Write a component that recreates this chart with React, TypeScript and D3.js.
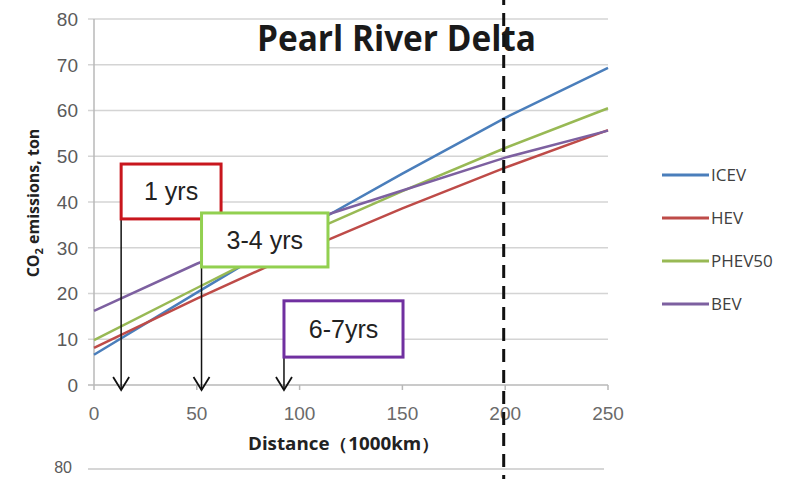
import React, { useRef, useEffect } from "react";
import * as d3 from "d3";

// distance in 1000 km
const distances = [0, 50, 100, 150, 200, 250];

const icev = [6.6, 20.2, 33.6, 46.2, 58.4, 69.3];
const hev = [8.1, 18.9, 29.1, 38.6, 47.5, 55.7];
const phev50 = [9.8, 21.2, 32.5, 42.4, 51.8, 60.5];
const bev = [16.2, 26.5, 35.3, 42.5, 49.7, 55.6];

const seriesNames = ["ICEV", "HEV", "PHEV50", "BEV"];
const seriesValues = [icev, hev, phev50, bev];
const seriesColors = ["#4a7ebb", "#be4b48", "#98b954", "#7d60a0"];

const xTicks = [0, 50, 100, 150, 200, 250];
const yTicks = [0, 10, 20, 30, 40, 50, 60, 70, 80];

// payback annotations: box spans in data units, arrow at box left edge
const noteLabels = ["1 yrs", "3-4 yrs", "6-7yrs"];
const noteColors = ["#c8161d", "#92d050", "#7030a0"];
const noteX0 = [13.2, 52.3, 92.4];
const noteX1 = [61.8, 113.8, 150.3];
const noteTop = [48.3, 37.6, 18.4];
const noteBottom = [36.3, 25.8, 6.1];

const markerDistance = 200;

export default function App() {
  const svgRef = useRef<SVGSVGElement>(null);

  useEffect(() => {
    const width = 789;
    const height = 479;
    const svg = d3.select(svgRef.current);
    svg.selectAll("*").remove();
    svg.attr("width", width).attr("height", height);

    svg.append("rect").attr("width", width).attr("height", height).attr("fill", "#fff");

    const x = d3.scaleLinear().domain([0, 250]).range([94, 608]);
    const y = d3.scaleLinear().domain([0, 80]).range([385, 19]);

    // gridlines
    svg
      .selectAll("grid")
      .data(yTicks)
      .enter()
      .append("line")
      .attr("x1", x(0) - 6)
      .attr("x2", x(250))
      .attr("y1", (d) => y(d))
      .attr("y2", (d) => y(d))
      .attr("stroke", (d) => (d === 0 ? "#b8b8b8" : "#d4d4d4"))
      .attr("stroke-width", 1.5);

    // y axis line
    svg
      .append("line")
      .attr("x1", x(0))
      .attr("x2", x(0))
      .attr("y1", y(80))
      .attr("y2", y(0))
      .attr("stroke", "#b8b8b8")
      .attr("stroke-width", 1.5);

    // x ticks
    svg
      .selectAll("xtick")
      .data(xTicks)
      .enter()
      .append("line")
      .attr("x1", (d) => x(d))
      .attr("x2", (d) => x(d))
      .attr("y1", y(0))
      .attr("y2", y(0) + 5)
      .attr("stroke", "#b8b8b8")
      .attr("stroke-width", 1.5);

    svg
      .selectAll("ylabel")
      .data(yTicks)
      .enter()
      .append("text")
      .attr("x", 78)
      .attr("y", (d) => y(d))
      .attr("dy", "0.36em")
      .attr("text-anchor", "end")
      .attr("font-family", "Liberation Sans, Arial, sans-serif")
      .attr("font-size", 19)
      .attr("fill", "#5a5a5a")
      .text((d) => d);

    svg
      .selectAll("xlabel")
      .data(xTicks)
      .enter()
      .append("text")
      .attr("x", (d) => x(d))
      .attr("y", 420)
      .attr("text-anchor", "middle")
      .attr("font-family", "Liberation Sans, Arial, sans-serif")
      .attr("font-size", 19)
      .attr("fill", "#6a6a6a")
      .text((d) => d);

    // axis titles
    svg
      .append("text")
      .attr("x", 344)
      .attr("y", 450)
      .attr("text-anchor", "middle")
      .attr("font-family", "Open Sans, sans-serif")
      .attr("font-weight", "bold")
      .attr("font-size", 17)
      .attr("fill", "#222")
      .attr("textLength", 192)
      .attr("lengthAdjust", "spacingAndGlyphs")
      .text("Distance（1000km）");

    const yTitle = svg
      .append("text")
      .attr("transform", "translate(39, 203) rotate(-90)")
      .attr("text-anchor", "middle")
      .attr("font-family", "Open Sans, sans-serif")
      .attr("font-weight", "bold")
      .attr("font-size", 16)
      .attr("fill", "#222");
    yTitle.append("tspan").text("CO");
    yTitle.append("tspan").attr("font-size", 11).attr("dy", 4).text("2");
    yTitle.append("tspan").attr("dy", -4).text(" emissions, ton");

    // title
    svg
      .append("text")
      .attr("x", 257)
      .attr("y", 51)
      .attr("font-family", "Open Sans, sans-serif")
      .attr("font-weight", "bold")
      .attr("font-size", 35)
      .attr("fill", "#1a1a1a")
      .attr("textLength", 279)
      .attr("lengthAdjust", "spacingAndGlyphs")
      .text("Pearl River Delta");

    // series lines
    const line = d3
      .line<number>()
      .x((d, i) => x(distances[i]))
      .y((d) => y(d));

    svg
      .selectAll("series")
      .data(seriesValues)
      .enter()
      .append("path")
      .attr("d", (d) => line(d))
      .attr("fill", "none")
      .attr("stroke", (d, i) => seriesColors[i])
      .attr("stroke-width", 2.5);

    // dashed marker
    svg
      .append("line")
      .attr("x1", x(markerDistance) - 1.5)
      .attr("x2", x(markerDistance) - 1.5)
      .attr("y1", 0)
      .attr("y2", height)
      .attr("stroke", "#111")
      .attr("stroke-width", 3)
      .attr("stroke-dasharray", "13,8")
      .attr("stroke-dashoffset", 8);

    // arrows
    const tipY = y(0) + 5;
    noteLabels.forEach((label, i) => {
      const ax = x(noteX0[i]);
      svg
        .append("line")
        .attr("x1", ax)
        .attr("x2", ax)
        .attr("y1", y(noteBottom[i]))
        .attr("y2", tipY)
        .attr("stroke", "#111")
        .attr("stroke-width", 1.5);
      svg
        .append("path")
        .attr("d", `M${ax - 8},${tipY - 13}L${ax},${tipY}L${ax + 8},${tipY - 13}`)
        .attr("fill", "none")
        .attr("stroke", "#111")
        .attr("stroke-width", 1.8);
    });

    // annotation boxes
    noteLabels.forEach((label, i) => {
      const bx = x(noteX0[i]);
      const by = y(noteTop[i]);
      const bw = x(noteX1[i]) - bx;
      const bh = y(noteBottom[i]) - by;
      svg
        .append("rect")
        .attr("x", bx)
        .attr("y", by)
        .attr("width", bw)
        .attr("height", bh)
        .attr("fill", "#fff")
        .attr("stroke", noteColors[i])
        .attr("stroke-width", 3);
      svg
        .append("text")
        .attr("x", bx + bw / 2)
        .attr("y", by + bh / 2)
        .attr("dy", "0.36em")
        .attr("text-anchor", "middle")
        .attr("font-family", "Liberation Sans, Arial, sans-serif")
        .attr("font-size", 25)
        .attr("fill", "#222")
        .text(label);
    });

    // legend
    const legend = svg
      .selectAll("legend")
      .data(seriesNames)
      .enter()
      .append("g")
      .attr("transform", (d, i) => `translate(662, ${175 + i * 43})`);
    legend
      .append("line")
      .attr("x1", 0)
      .attr("x2", 47)
      .attr("stroke", (d, i) => seriesColors[i])
      .attr("stroke-width", 3);
    legend
      .append("text")
      .attr("x", 49)
      .attr("dy", "0.36em")
      .attr("font-family", "Open Sans, sans-serif")
      .attr("font-size", 17)
      .attr("fill", "#404040")
      .text((d) => d);

    // top edge of the chart below
    svg
      .append("line")
      .attr("x1", x(0) - 6)
      .attr("x2", 604)
      .attr("y1", 469)
      .attr("y2", 469)
      .attr("stroke", "#c8c8c8")
      .attr("stroke-width", 1.5);
    svg
      .append("text")
      .attr("x", 72)
      .attr("y", 467)
      .attr("dy", "0.36em")
      .attr("text-anchor", "end")
      .attr("font-family", "Liberation Sans, Arial, sans-serif")
      .attr("font-size", 16)
      .attr("fill", "#5a5a5a")
      .text("80");
  }, []);

  return (
    <svg
      ref={svgRef}
      style={{ position: "absolute", left: 0, top: 0, display: "block" }}
    ></svg>
  );
}
